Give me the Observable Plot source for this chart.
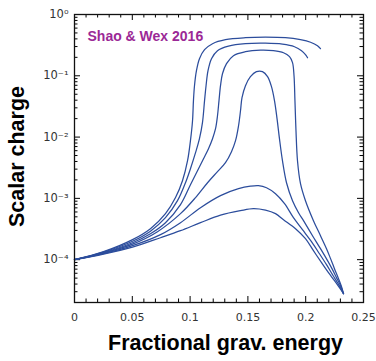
<!DOCTYPE html>
<html>
<head>
<meta charset="utf-8">
<script src="https://cdn.jsdelivr.net/npm/d3@7"></script>
<script src="https://cdn.jsdelivr.net/npm/@observablehq/plot@0.6"></script>
<style>
  html, body { margin: 0; padding: 0; background: #fff; }
</style>
</head>
<body>
<div id="chart"></div>
<script>
// Scalar charge vs fractional gravitational energy, one array per curve ([x, y])
const curve1 = [[0,1e-4],[0.0251,1.35e-4],[0.0502,2.12e-4],[0.0657,3.20e-4],[0.0787,5.63e-4],[0.0874,1.03e-3],[0.0934,1.94e-3],[0.0978,4.12e-3],[0.1003,8.74e-3],[0.1021,1.85e-2],[0.1029,3.93e-2],[0.1038,6.89e-2],[0.1055,0.121],[0.1081,0.190],[0.1125,0.267],[0.1194,0.334],[0.1306,0.388],[0.1479,0.418],[0.1652,0.426],[0.1825,0.418],[0.1955,0.388],[0.2042,0.353],[0.2102,0.310],[0.2128,0.277]];
const curve2 = [[0,1e-4],[0.0251,1.33e-4],[0.0502,2.00e-4],[0.0657,2.92e-4],[0.0787,4.84e-4],[0.0891,9.17e-4],[0.0960,1.80e-3],[0.1003,3.05e-3],[0.1047,5.57e-3],[0.1081,9.42e-3],[0.1107,1.72e-2],[0.1125,3.93e-2],[0.1138,6.89e-2],[0.1155,0.121],[0.1185,0.190],[0.1237,0.257],[0.1332,0.304],[0.1479,0.334],[0.1652,0.340],[0.1799,0.328],[0.1903,0.298],[0.1964,0.257],[0.1998,0.221],[0.2016,0.197]];
const curve3 = [[0,1e-4],[0.0251,1.30e-4],[0.0502,1.89e-4],[0.0657,2.65e-4],[0.0787,4.01e-4],[0.0917,7.89e-4],[0.1003,1.67e-3],[0.1064,2.83e-3],[0.1116,4.44e-3],[0.1159,6.47e-3],[0.1194,9.42e-3],[0.1220,1.37e-2],[0.1237,2.23e-2],[0.1250,3.93e-2],[0.1263,6.89e-2],[0.1280,0.108],[0.1315,0.158],[0.1375,0.213],[0.1479,0.247],[0.1609,0.262],[0.1721,0.257],[0.1808,0.238],[0.1860,0.205],[0.1886,0.164],[0.1899,0.100],[0.1907,3.93e-2],[0.1916,1.27e-2],[0.1929,4.12e-3],[0.1955,1.74e-3],[0.1998,9.17e-4],[0.2067,4.33e-4],[0.2128,2.46e-4],[0.2180,1.51e-4],[0.2215,1.04e-4],[0.2249,7.13e-5],[0.2284,4.90e-5],[0.2310,3.63e-5],[0.2327,2.79e-5]];
const curve4 = [[0,1e-4],[0.0251,1.28e-4],[0.0502,1.79e-4],[0.0718,2.86e-4],[0.0917,5.63e-4],[0.1047,1.03e-3],[0.1151,1.80e-3],[0.1237,2.73e-3],[0.1306,3.82e-3],[0.1358,5.78e-3],[0.1393,8.74e-3],[0.1419,1.53e-2],[0.1436,2.69e-2],[0.1449,4.39e-2],[0.1479,6.89e-2],[0.1522,9.67e-2],[0.1574,0.117],[0.1626,0.117],[0.1670,9.67e-2],[0.1704,6.64e-2],[0.1730,3.93e-2],[0.1752,2.00e-2],[0.1773,9.42e-3],[0.1799,4.12e-3],[0.1834,1.80e-3],[0.1886,9.17e-4],[0.1938,5.84e-4],[0.1981,4.33e-4],[0.2059,2.46e-4],[0.2128,1.51e-4],[0.2189,9.63e-5],[0.2232,6.87e-5],[0.2266,5.09e-5],[0.2301,3.77e-5],[0.2327,2.79e-5]];
const curve5 = [[0,1e-4],[0.0251,1.25e-4],[0.0502,1.69e-4],[0.0744,2.56e-4],[0.0917,4.01e-4],[0.1090,7.05e-4],[0.1263,1.11e-3],[0.1419,1.44e-3],[0.1522,1.58e-3],[0.1592,1.61e-3],[0.1661,1.49e-3],[0.1739,1.19e-3],[0.1817,8.19e-4],[0.1894,4.84e-4],[0.1972,3.09e-4],[0.2050,1.97e-4],[0.2119,1.25e-4],[0.2180,8.29e-5],[0.2232,5.69e-5],[0.2275,4.21e-5],[0.2301,3.49e-5],[0.2327,2.79e-5]];
const curve6 = [[0,1e-4],[0.0251,1.23e-4],[0.0502,1.60e-4],[0.0744,2.28e-4],[0.0917,2.97e-4],[0.1090,4.01e-4],[0.1263,5.32e-4],[0.1436,6.30e-4],[0.1548,6.79e-4],[0.1652,6.42e-4],[0.1739,5.63e-4],[0.1808,4.49e-4],[0.1912,3.20e-4],[0.1998,2.20e-4],[0.2067,1.40e-4],[0.2137,8.93e-5],[0.2197,6.14e-5],[0.2249,4.54e-5],[0.2292,3.49e-5],[0.2327,2.79e-5]];

const xTickValues = [0, 0.05, 0.1, 0.15, 0.2, 0.25];
const xTickLabels = ["0", "0.05", "0.1", "0.15", "0.2", "0.25"];
const yTickValues = [1e-4, 1e-3, 1e-2, 1e-1, 1];
const yTickLabels = ["10\u207B\u2074", "10\u207B\u00B3", "10\u207B\u00B2", "10\u207B\u00B9", "10\u2070"];
const titleText = "Shao & Wex 2016";
const xLabel = "Fractional grav. energy";
const yLabel = "Scalar charge";

const curves = [curve1, curve2, curve3, curve4, curve5, curve6];
const rows = curves.flatMap((c, i) => c.map(([x, y]) => ({curve: i, x, y})));

const xMinor = d3.range(0, 0.2501, 0.01).map(v => +v.toFixed(2)).filter(v => !xTickValues.includes(v));
const yMinor = [];
for (let e = -5; e < 0; e++) for (let m = 2; m <= 9; m++) { const v = m * Math.pow(10, e); if (v >= 2e-5 && v <= 1) yMinor.push(v); }

const W = 376, H = 361, mL = 74, mR = 13, mT = 14, mB = 59;
const fw = W - mL - mR, fh = H - mT - mB;
const maj = 6, mnr = 3.5;
const tickStyle = {stroke: "#000", strokeWidth: 1};

const chart = Plot.plot({
  width: W, height: H,
  marginLeft: mL, marginRight: mR, marginTop: mT, marginBottom: mB,
  style: {fontFamily: "DejaVu Sans", fontSize: "11px", color: "#333", background: "#fff", overflow: "visible"},
  x: {domain: [0, 0.25]},
  y: {type: "log", domain: [2e-5, 1]},
  marks: [
    // inward ticks on all four sides
    Plot.tickX(xTickValues, {x: d => d, insetTop: fh - maj, ...tickStyle}),
    Plot.tickX(xTickValues, {x: d => d, insetBottom: fh - maj, ...tickStyle}),
    Plot.tickX(xMinor, {x: d => d, insetTop: fh - mnr, ...tickStyle}),
    Plot.tickX(xMinor, {x: d => d, insetBottom: fh - mnr, ...tickStyle}),
    Plot.tickY(yTickValues, {y: d => d, insetRight: fw - maj, ...tickStyle}),
    Plot.tickY(yTickValues, {y: d => d, insetLeft: fw - maj, ...tickStyle}),
    Plot.tickY(yMinor, {y: d => d, insetRight: fw - mnr, ...tickStyle}),
    Plot.tickY(yMinor, {y: d => d, insetLeft: fw - mnr, ...tickStyle}),
    Plot.axisX({ticks: xTickValues, tickSize: 0, tickPadding: 11, tickFormat: d => xTickLabels[xTickValues.indexOf(d)], label: null, fontSize: 11, fill: "#333"}),
    Plot.axisY({ticks: yTickValues, tickSize: 0, tickPadding: 6, tickFormat: d => yTickLabels[yTickValues.indexOf(d)], label: null, fontSize: 11.5, fill: "#333"}),
    Plot.line(rows, {x: "x", y: "y", z: "curve", stroke: "#2c4d9c", strokeWidth: 1.25, curve: "catmull-rom"}),
    Plot.frame({stroke: "#111", strokeWidth: 1.3}),
    Plot.text([titleText], {text: d => d, frameAnchor: "top-left", textAnchor: "start", lineAnchor: "middle", dx: 13, dy: 22.5, fill: "#9b2896", fontSize: 14, fontWeight: "bold", fontFamily: "Liberation Sans"}),
    Plot.text([xLabel], {text: d => d, frameAnchor: "bottom", textAnchor: "middle", lineAnchor: "middle", dx: 6.5, dy: 41, fill: "#000", fontSize: 21.5, fontWeight: "bold", fontFamily: "Liberation Sans"}),
    Plot.text([yLabel], {text: d => d, frameAnchor: "left", textAnchor: "middle", lineAnchor: "middle", rotate: -90, dx: -57, dy: -2, fill: "#000", fontSize: 21.5, fontWeight: "bold", fontFamily: "Liberation Sans"})
  ]
});
document.getElementById("chart").appendChild(chart);
</script>
</body>
</html>
